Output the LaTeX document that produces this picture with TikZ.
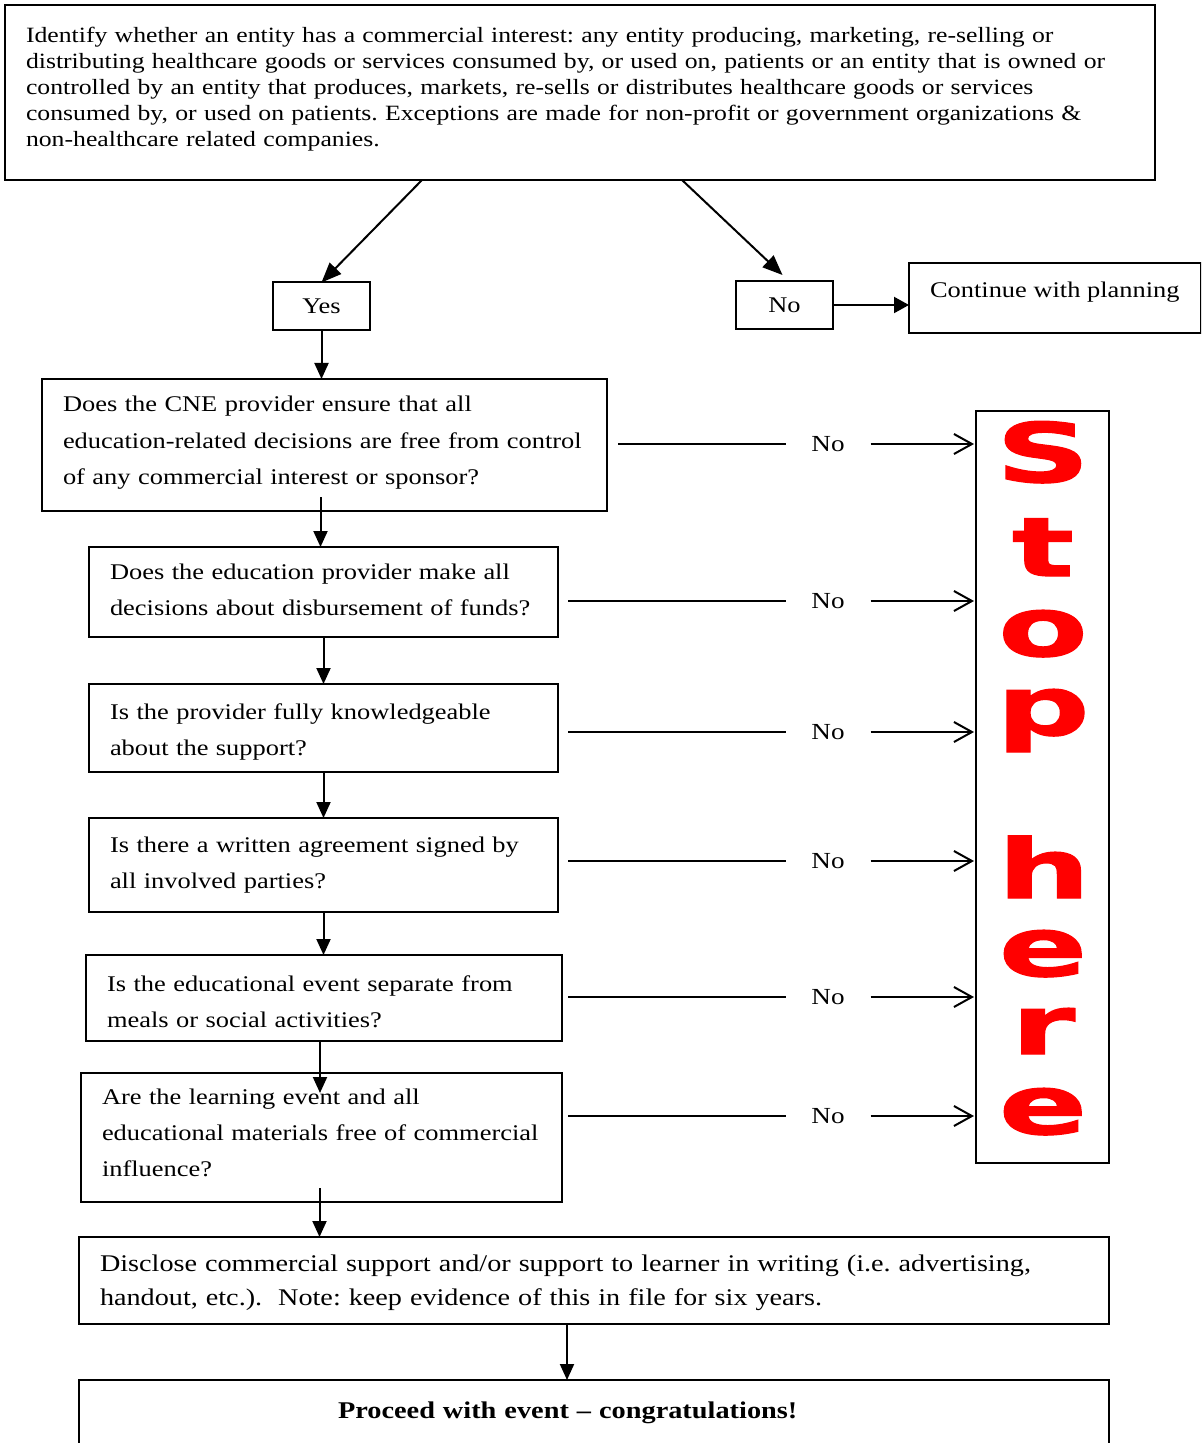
\documentclass[tikz,border=0pt]{standalone}
\usepackage{fontspec}
\setmainfont{Liberation Serif}[FakeStretch=1.18]
\newfontfamily\stopfont{DejaVu Sans}[FakeStretch=1.6,FakeBold=1.5]
\usetikzlibrary{arrows.meta,calc}
\definecolor{stopred}{RGB}{255,0,0}
\frenchspacing

\begin{document}
\begin{tikzpicture}[x=0.5pt,y=-0.5pt,
        qbox/.style={draw,line width=1pt,anchor=north west,outer sep=0pt,inner xsep=10.5pt,inner ysep=0pt,
            align=left,font={\fontsize{11.2pt}{18pt}\selectfont}},
        ansbox/.style={draw,line width=1pt,minimum width=48.5pt,minimum height=24pt,inner sep=0pt,outer sep=0pt,
            font={\fontsize{11.2pt}{13pt}\selectfont}},
        nolabel/.style={minimum width=42.5pt,inner sep=0pt,outer sep=0pt,font={\fontsize{11.5pt}{13pt}\selectfont}},
        stopletter/.style={anchor=base,inner sep=0pt,text=stopred,font={\stopfont\bfseries\fontsize{41pt}{41pt}\selectfont}},
        flowarrow/.style={line width=1pt,-{Triangle[length=8pt,width=7pt]}},
        splitarrow/.style={line width=1pt,-{Triangle[length=10pt,width=8pt]}},
        stoparrow/.style={line width=1pt,-{Straight Barb[length=9pt,width=10pt,line width=1pt]}}]
        \useasboundingbox (0,0) rectangle (1201,1443);
        \clip (0,0) rectangle (1201,1443);

        % 判断是否为商业利益实体
        \node[qbox,text width=554pt,text height=19pt,text depth=68.5pt,font={\fontsize{10.9pt}{13pt}\selectfont}] (entity) at (5,5) {
            Identify whether an entity has a commercial interest: any entity producing, marketing, re-selling or\\
            distributing healthcare goods or services consumed by, or used on, patients or an entity that is owned or\\
            controlled by an entity that produces, markets, re-sells or distributes healthcare goods or services\\
            consumed by, or used on patients. Exceptions are made for non-profit or government organizations \&\\
            non-healthcare related companies.};
        \node[ansbox] (yes) at (321.5,306.5) {Yes};
        \node[ansbox] (no) at (784.5,305) {No};
        \node[qbox,minimum width=145.5pt,text height=17.5pt,text depth=17.5pt] (cont) at (909,263) {Continue with planning};
        \coordinate (yesfoot) at ($(entity.south west)+(417,0)$);
        \coordinate (nofoot) at ($(entity.south west)+(677,0)$);
        \draw[splitarrow] (yesfoot) -- (yes.north);
        \draw[splitarrow] (nofoot) -- ($(no.north)+(-2,-6)$);
        \draw[line width=1pt,-{Triangle[length=7.5pt,width=8pt]}] (no) -- (no -| cont.west);

        % 各个问题
        \node[qbox,text width=261.5pt,text height=16.5pt,text depth=49.5pt] (q1) at (42,379) {
            Does the CNE provider ensure that all\\
            education-related decisions are free from control\\
            of any commercial interest or sponsor?};
        \node[qbox,text width=213.5pt,text height=16pt,text depth=29pt] (q2) at (89,547) {
            Does the education provider make all\\
            decisions about disbursement of funds?};
        \node[qbox,text width=213.5pt,text height=17.5pt,text depth=26.5pt] (q3) at (89,684) {
            Is the provider fully knowledgeable\\
            about the support?};
        \node[qbox,text width=213.5pt,text height=17pt,text depth=30pt] (q4) at (89,818) {
            Is there a written agreement signed by\\
            all involved parties?};
        \node[qbox,text width=217pt,text height=18pt,text depth=25pt] (q5) at (86,955) {
            Is the educational event separate from\\
            meals or social activities?};
        \node[qbox,text width=219.5pt,text height=15.5pt,text depth=49pt] (q6) at (81,1073) {
            Are the learning event and all\\
            educational materials free of commercial\\
            influence?};
        \node[qbox,text width=494pt,text height=17pt,text depth=26.5pt,font={\fontsize{11.95pt}{17pt}\selectfont}] (disc) at (79,1237) {
            Disclose commercial support and/or support to learner in writing (i.e. advertising,\\
            handout, etc.).\ \ Note: keep evidence of this in file for six years.};
        \node[qbox,text width=494pt,text height=19pt,text depth=40pt,font={\bfseries\fontsize{12pt}{14pt}\selectfont}] (proc) at (79,1380) {
            \hspace*{119pt}Proceed with event -- congratulations!};

        % 主流程箭头
        \draw[flowarrow] (yes.south) -- (yes.south |- q1.north);
        \draw[flowarrow] ($(q1.south)+(-4,-14)$) -- ($(q2.north)+(-3,0)$);
        \draw[flowarrow] (q2.south) -- (q2.south |- q3.north);
        \draw[flowarrow] (q3.south) -- (q3.south |- q4.north);
        \draw[flowarrow] (q4.south) -- (q4.south |- q5.north);
        \draw[flowarrow] ($(q5.south)+(-4,0)$) -- ($(q5.south |- q6.north)+(-4,20)$);
        \draw[flowarrow] ($(q6.south)+(-2,-14)$) -- ($(q6.south |- disc.north)+(-2,0)$);
        \draw[flowarrow] ($(disc.south)+(-27,0)$) -- ($(disc.south |- proc.north)+(-27,0)$);

        % 停止框
        \node[draw,line width=1pt,anchor=north west,outer sep=0pt,inner sep=0pt,minimum width=66.5pt,minimum height=376pt] (stop) at (976,411) {};
        \node[stopletter] (ltrS) at (1043,482) {S};
        \node[stopletter] (ltrt) at (1043,576) {t};
        \node[stopletter] (ltro) at (1043,656) {o};
        \node[stopletter] (ltrp) at (1043,735) {p};
        \node[stopletter] (ltrh) at (1044,898) {h};
        \node[stopletter] (ltre) at (1043,976) {e};
        \node[stopletter] (ltrr) at (1043,1054) {r};
        \node[stopletter] (ltrE) at (1043,1134) {e};

        % 否定分支
        \node[nolabel] (no1) at (828,444) {No};
        \node[nolabel] (no2) at (828,601) {No};
        \node[nolabel] (no3) at (828,732) {No};
        \node[nolabel] (no4) at (828,861) {No};
        \node[nolabel] (no5) at (828,997) {No};
        \node[nolabel] (no6) at (828,1116) {No};
        \draw[line width=1pt] ($(q1.east |- no1)+(11,0)$) -- (no1);
        \draw[line width=1pt] ($(q2.east |- no2)+(10,0)$) -- (no2);
        \draw[line width=1pt] ($(q3.east |- no3)+(10,0)$) -- (no3);
        \draw[line width=1pt] ($(q4.east |- no4)+(10,0)$) -- (no4);
        \draw[line width=1pt] ($(q5.east |- no5)+(6,0)$) -- (no5);
        \draw[line width=1pt] ($(q6.east |- no6)+(6,0)$) -- (no6);
        \draw[stoparrow] (no1) -- ($(no1 -| stop.west)+(-2,0)$);
        \draw[stoparrow] (no2) -- ($(no2 -| stop.west)+(-2,0)$);
        \draw[stoparrow] (no3) -- ($(no3 -| stop.west)+(-2,0)$);
        \draw[stoparrow] (no4) -- ($(no4 -| stop.west)+(-2,0)$);
        \draw[stoparrow] (no5) -- ($(no5 -| stop.west)+(-2,0)$);
        \draw[stoparrow] (no6) -- ($(no6 -| stop.west)+(-2,0)$);
\end{tikzpicture}
\end{document}
